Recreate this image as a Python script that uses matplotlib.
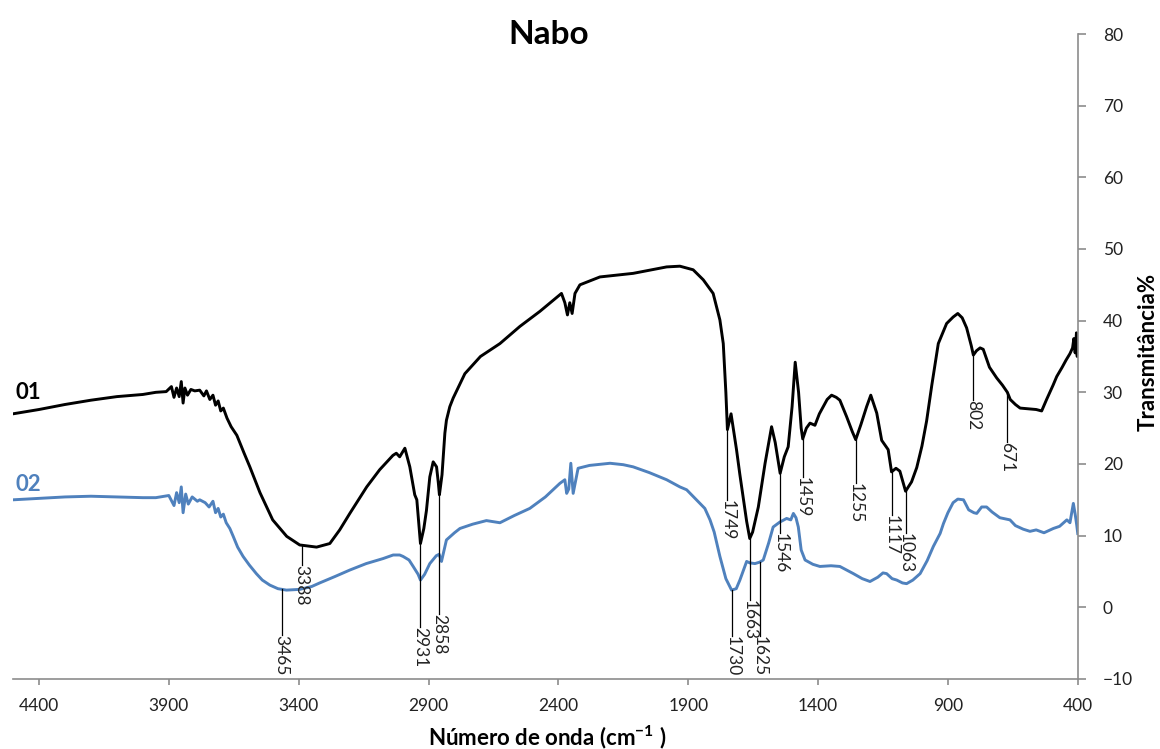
import numpy as np
import matplotlib
matplotlib.use("Agg")
import matplotlib.pyplot as plt

# amostra 01 (preto)
wn_01 = [4500, 4400, 4300, 4200, 4100, 4000, 3950, 3910, 3890, 3880, 3870, 3860,
         3852, 3845, 3838, 3828, 3815, 3800, 3781, 3765, 3755, 3742, 3730, 3720,
         3710, 3700, 3690, 3676, 3660, 3638, 3610, 3588, 3549, 3500, 3446, 3396,
         3331, 3280, 3242, 3203, 3138, 3088, 3037, 3024, 3011, 2991, 2972, 2953,
         2945, 2931, 2918, 2908, 2895, 2882, 2869, 2862, 2858, 2848, 2837, 2831,
         2818, 2805, 2760, 2700, 2625, 2548, 2471, 2388, 2375, 2365, 2356, 2347,
         2336, 2317, 2240, 2112, 1983, 1932, 1881, 1842, 1804, 1778, 1765, 1755,
         1749, 1735, 1714, 1701, 1675, 1663, 1652, 1630, 1604, 1579, 1565, 1546,
         1530, 1515, 1500, 1488, 1475, 1465, 1459, 1445, 1431, 1412, 1395, 1380,
         1365, 1348, 1330, 1316, 1290, 1268, 1255, 1235, 1213, 1197, 1174, 1155,
         1130, 1117, 1100, 1085, 1063, 1040, 1020, 1000, 982, 962, 937, 905,
         880, 862, 845, 828, 810, 802, 790, 776, 764, 740, 712, 690,
         671, 660, 640, 622, 590, 560, 539, 520, 495, 481, 460, 445,
         430, 420, 415, 410, 405, 402, 400]
tr_01 = [27.0, 27.6, 28.3, 28.9, 29.4, 29.7, 30.0, 30.1, 30.8, 29.3, 30.6, 29.4,
         31.5, 28.5, 30.6, 29.6, 30.4, 30.2, 30.3, 29.5, 30.2, 29.0, 29.6, 28.2,
         28.8, 27.4, 27.8, 26.4, 25.2, 24.0, 21.5, 19.6, 16.0, 12.2, 9.9, 8.7,
         8.4, 8.9, 10.8, 13.1, 16.8, 19.2, 21.2, 21.5, 21.0, 22.2, 19.6, 15.7,
         15.0, 8.9, 11.0, 13.5, 18.2, 20.3, 19.6, 17.3, 15.7, 18.5, 24.3, 26.1,
         28.0, 29.2, 32.6, 35.0, 36.8, 39.2, 41.3, 43.8, 42.5, 40.8, 42.5, 41.0,
         43.8, 45.0, 46.1, 46.6, 47.5, 47.6, 47.1, 45.7, 43.8, 40.1, 36.8, 30.0,
         24.8, 27.0, 22.0, 18.5, 12.0, 9.6, 10.5, 14.0, 20.1, 25.2, 23.0, 18.7,
         21.0, 22.4, 28.0, 34.2, 30.0, 25.0, 23.5, 25.0, 25.7, 25.4, 27.0, 28.0,
         29.0, 29.6, 29.3, 28.9, 26.6, 24.5, 23.4, 25.5, 28.0, 29.6, 27.1, 23.3,
         22.0, 18.9, 19.4, 19.0, 16.2, 17.5, 19.5, 22.5, 26.0, 31.0, 36.8, 39.6,
         40.5, 41.0, 40.4, 39.0, 36.5, 35.2, 35.8, 36.2, 36.0, 33.5, 32.0, 31.0,
         30.0, 29.0, 28.3, 27.8, 27.7, 27.6, 27.4, 29.0, 31.0, 32.2, 33.5, 34.5,
         35.4, 36.2, 37.5, 35.5, 38.3, 35.0, 37.0]

# amostra 02 (azul)
wn_02 = [4500, 4400, 4300, 4200, 4100, 4000, 3950, 3900, 3880, 3870, 3860, 3852,
         3845, 3835, 3825, 3810, 3790, 3781, 3760, 3745, 3730, 3720, 3710, 3700,
         3690, 3679, 3665, 3652, 3635, 3614, 3590, 3563, 3540, 3511, 3480, 3447,
         3396, 3350, 3319, 3260, 3203, 3140, 3075, 3036, 3011, 2998, 2975, 2959,
         2940, 2931, 2915, 2895, 2870, 2859, 2850, 2831, 2800, 2779, 2730, 2677,
         2625, 2570, 2510, 2450, 2394, 2375, 2368, 2360, 2352, 2343, 2324, 2280,
         2201, 2150, 2112, 2050, 1983, 1932, 1906, 1868, 1836, 1816, 1800, 1778,
         1755, 1733, 1715, 1701, 1675, 1663, 1643, 1625, 1611, 1590, 1573, 1547,
         1521, 1505, 1495, 1485, 1476, 1465, 1450, 1420, 1393, 1350, 1316, 1290,
         1264, 1230, 1200, 1170, 1150, 1136, 1115, 1097, 1075, 1059, 1035, 1007,
         980, 956, 930, 917, 900, 880, 862, 840, 820, 800, 789, 770,
         751, 730, 700, 661, 640, 610, 584, 560, 530, 494, 470, 442,
         430, 417, 410, 404, 400]
tr_02 = [15.0, 15.2, 15.4, 15.5, 15.4, 15.3, 15.3, 15.6, 14.2, 16.0, 14.6, 16.8,
         13.2, 15.8, 14.4, 15.4, 14.8, 15.0, 14.6, 14.0, 14.8, 13.2, 13.8, 12.6,
         13.0, 11.8, 11.0, 9.9, 8.4, 7.1, 5.9, 4.7, 3.8, 3.1, 2.6, 2.4,
         2.5, 2.9, 3.4, 4.3, 5.2, 6.1, 6.8, 7.3, 7.3, 7.1, 6.6, 5.7,
         4.6, 3.8, 4.6, 6.1, 7.2, 7.4, 6.4, 9.4, 10.4, 11.0, 11.6, 12.1,
         11.8, 12.8, 13.8, 15.4, 17.3, 17.8, 15.9, 16.5, 20.1, 15.9, 19.4, 19.8,
         20.1, 19.9, 19.6, 18.8, 17.8, 16.8, 16.4, 15.0, 13.8, 12.2, 10.5, 7.1,
         4.0, 2.4, 2.6, 3.8, 6.4, 6.2, 6.1, 6.3, 6.6, 9.0, 11.2, 11.9,
         12.4, 12.2, 13.1, 12.5, 11.2, 8.0, 6.6, 6.0, 5.7, 5.8, 5.7, 5.2,
         4.7, 4.0, 3.6, 4.2, 4.8, 4.7, 4.0, 3.8, 3.4, 3.3, 3.8, 4.7,
         6.5, 8.5, 10.3, 11.7, 13.2, 14.6, 15.1, 15.0, 13.6, 13.2, 13.1, 14.0,
         14.0, 13.3, 12.5, 12.2, 11.4, 10.9, 10.6, 10.8, 10.4, 11.0, 11.3, 12.2,
         11.8, 14.5, 13.0, 11.5, 10.3]

# bandas marcadas: numero de onda, amostra e altura do rotulo
peaks = [3388, 3465, 2931, 2858, 1749, 1730, 1663, 1625,
         1546, 1459, 1255, 1117, 1063, 802, 671]
peak_series = ["01", "02", "01", "01", "01", "02", "01", "02",
               "01", "01", "01", "01", "01", "01", "01"]
label_y = [5.9, -3.9, -2.8, -0.9, 15.0, -4.0, 1.0, -4.0,
           10.4, 18.2, 17.3, 12.9, 10.4, 28.9, 23.1]

BLUE = "#4f81bd"
AXIS_GRAY = "#8c8c8c"

plt.rcParams["font.family"] = ["Lato", "DejaVu Sans"]
plt.rcParams["mathtext.fontset"] = "custom"
plt.rcParams["mathtext.bf"] = "Lato:bold"
plt.rcParams["mathtext.rm"] = "Lato:bold"

fig = plt.figure(figsize=(11.6, 7.49), dpi=100)
ax = fig.add_axes([0.0112, 0.0935, 0.9179, 0.8611])

ax.plot(wn_01, tr_01, color="black", lw=2.1)
ax.plot(wn_02, tr_02, color=BLUE, lw=2.1)

curves = {"01": (np.array(wn_01[::-1]), np.array(tr_01[::-1])),
          "02": (np.array(wn_02[::-1]), np.array(tr_02[::-1]))}

for wn, serie, ly in zip(peaks, peak_series, label_y):
    xs, ys = curves[serie]
    y0 = np.interp(wn, xs, ys)
    ax.plot([wn, wn], [y0, ly], color="black", lw=0.9)
    ax.text(wn, ly, str(wn), rotation=270, ha="center", va="top",
            fontsize=12.5, color="#222222")

ax.text(4490, 30.0, "01", fontsize=16, fontweight="bold", color="black",
        ha="left", va="center")
ax.text(4490, 17.1, "02", fontsize=16, fontweight="bold", color=BLUE,
        ha="left", va="center")

ax.set_xlim(4500, 400)
ax.set_ylim(-10, 80)
ax.set_xticks(np.arange(4400, 399, -500))
ax.set_yticks(np.arange(-10, 81, 10))

ax.yaxis.tick_right()
for side in ["top", "left"]:
    ax.spines[side].set_visible(False)
for side in ["bottom", "right"]:
    ax.spines[side].set_color(AXIS_GRAY)
    ax.spines[side].set_linewidth(1.2)
ax.tick_params(axis="x", direction="out", length=4, width=1.2,
               color=AXIS_GRAY, labelsize=12.5, labelcolor="#222222", pad=10)
ax.tick_params(axis="y", direction="out", length=6, width=1.2,
               color=AXIS_GRAY, labelsize=12.5, labelcolor="#222222", pad=12)

fig.text(549 / 1160, 1 - 34 / 749, "Nabo", fontsize=24, fontweight="bold",
         ha="center", va="center")
fig.text(547 / 1160, 1 - 737 / 749, "Número de onda (cm$^{-1}$ )",
         fontsize=16, fontweight="bold", ha="center", va="center")
fig.text(1148 / 1160, 1 - 352 / 749, "Transmitância%", fontsize=16,
         fontweight="bold", rotation=90, ha="center", va="center")

fig.savefig("out.png", dpi=100)
